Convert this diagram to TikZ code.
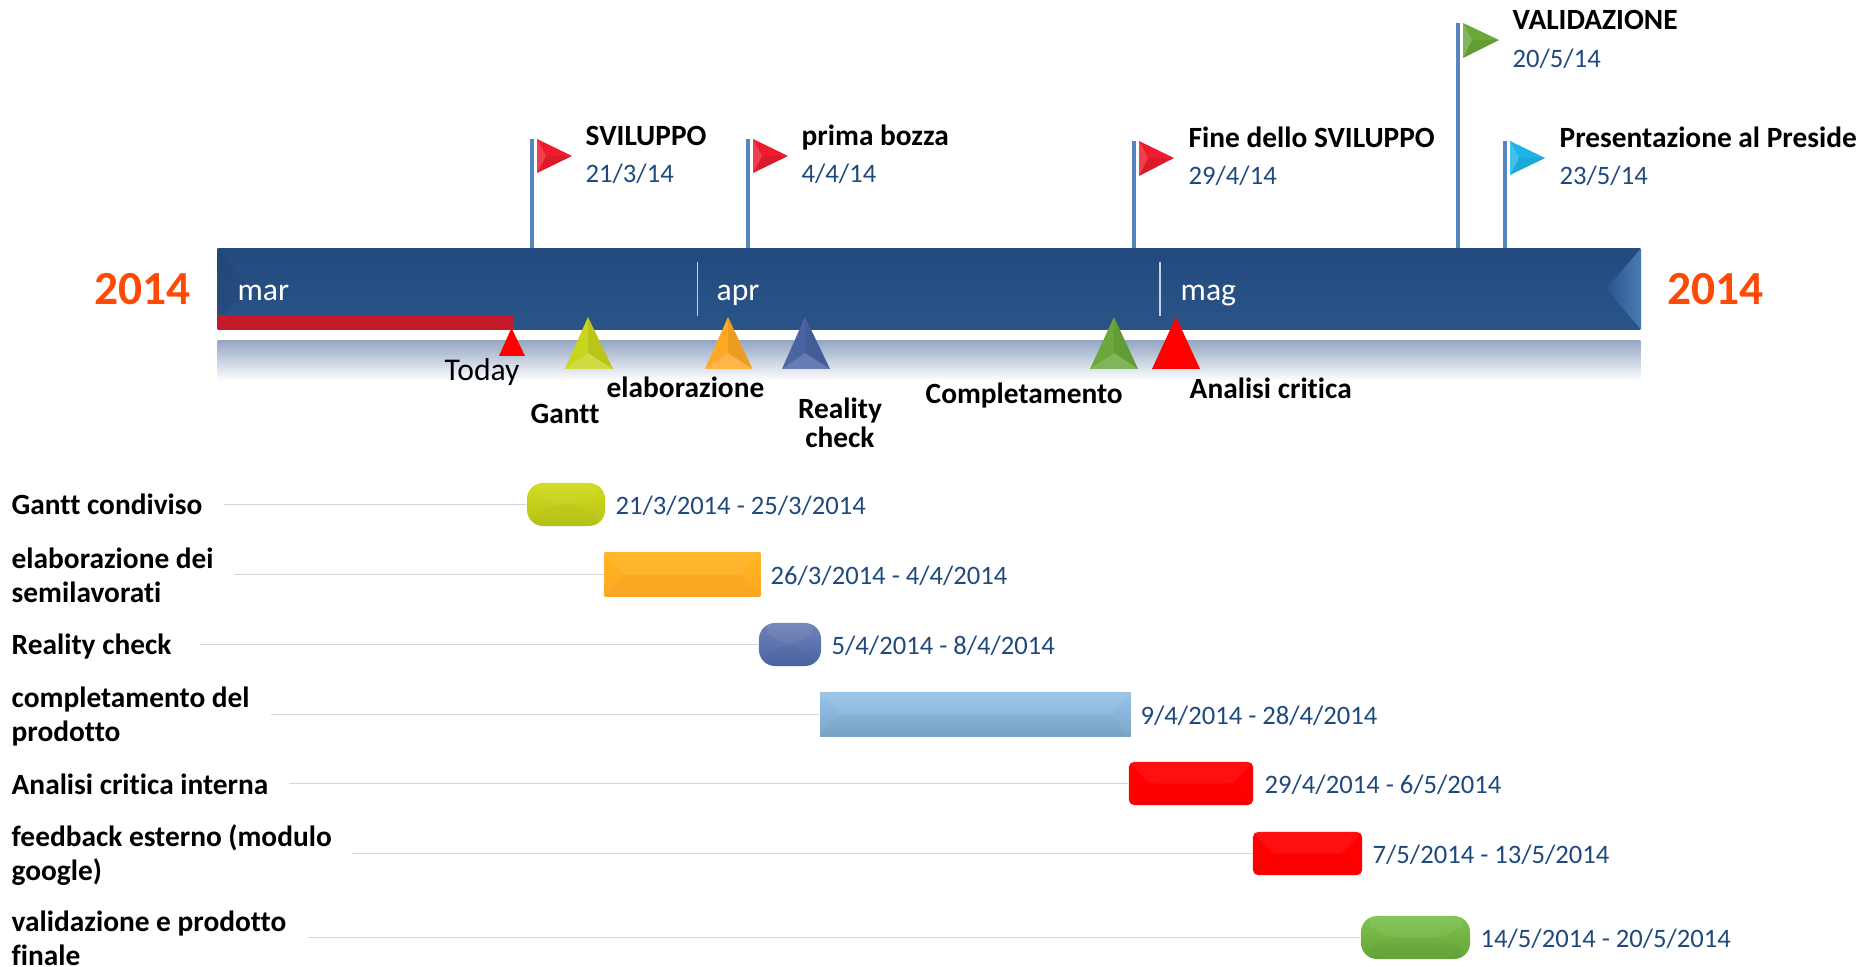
\documentclass[tikz,border=0pt]{standalone}
\usepackage{fontspec}
\setmainfont[Ligatures=NoCommon]{Carlito}
\definecolor{bandtop}{HTML}{234A7E}
\definecolor{bandbot}{HTML}{2A5488}
\definecolor{bandend}{HTML}{4A7AB5}
\definecolor{stripcol}{HTML}{95A8C4}
\definecolor{datecol}{HTML}{1F497D}
\definecolor{polecol}{HTML}{5585BE}
\definecolor{yearcol}{HTML}{FF4A06}
\definecolor{rowcol}{HTML}{D6D6D6}
\definecolor{todaycol}{HTML}{C41A2C}
\definecolor{flagred}{HTML}{EE1C2E}
\definecolor{flaggreen}{HTML}{6BA83A}
\definecolor{flagcyan}{HTML}{1EB4E8}
\definecolor{trigantt}{HTML}{C8D41E}
\definecolor{triorange}{HTML}{FFA825}
\definecolor{triblue}{HTML}{4A64A4}
\definecolor{trigreen}{HTML}{6AA83C}
\tikzset{
	bold/.style={inner sep=0, anchor=base west, font=\fontsize{8.35}{9.7}\selectfont\bfseries},
	date/.style={inner sep=0, anchor=base west, text=datecol, font=\fontsize{7.57}{9.7}\selectfont},
	year/.style={inner sep=0, anchor=base west, text=yearcol, font=\fontsize{13.5}{14}\selectfont\bfseries},
	month/.style={inner sep=0, anchor=base west, text=white, font=\fontsize{9}{10}\selectfont},
	tick/.style={white!75!bandtop, line width=0.5pt},
	pole/.style={polecol, line width=1pt},
	rowlab/.style={inner sep=0, anchor=west, align=left, font=\fontsize{8.35}{9.7}\selectfont\bfseries},
	rowline/.style={rowcol, line width=0.4pt},
	facetl/.style={white, opacity=0.16},
	facetr/.style={black, opacity=0.07},
	bar/.style={inner sep=0, minimum height=0.43cm, path picture={
		\fill[white, opacity=0.06] (path picture bounding box.north west) -- (path picture bounding box.north east) -- ([xshift=-0.2cm]path picture bounding box.east) -- ([xshift=0.2cm]path picture bounding box.west) -- cycle;
		\fill[black, opacity=0.02] (path picture bounding box.south west) -- (path picture bounding box.south east) -- ([xshift=-0.2cm]path picture bounding box.east) -- ([xshift=0.2cm]path picture bounding box.west) -- cycle;}},
	pill/.style={bar, rounded corners=0.16cm},
	soft/.style={bar, rounded corners=0.05cm},
}
\begin{document}
\begin{tikzpicture}[x=0.01cm, y=-0.01cm]
	\useasboundingbox (0, 0) rectangle (1864, 967);
	%% band and strip
	\node[inner sep=0, minimum width=14.22cm, minimum height=0.80cm, top color=bandtop, bottom color=bandbot] (band) at (929, 289) {};
	\node[inner sep=0, minimum width=14.22cm, minimum height=0.40cm, top color=stripcol, bottom color=white] (strip) at (929, 361) {};
	\shade[left color=bandbot, right color=bandend] (band.north east) -- (band.south east) -- (1606, 289) -- cycle;
	\fill[black, opacity=0.05] (band.north west) -- (218, 322) -- (250, 289) -- cycle;
	\fill[todaycol] (218, 315) rectangle (514, 330);
	%%
	\node[year] (yearl) at (94, 305) {2014};
	\node[year] (yearr) at (1667, 305) {2014};
	%%
	\node[month] (mar) at (237, 301) {mar};
	\node[month] (apr) at (716, 301) {apr};
	\node[month] (mag) at (1180, 301) {mag};
	\coordinate (aprt) at (697.5, 262);
	\coordinate (aprb) at (697.5, 316);
	\coordinate (magt) at (1160, 262);
	\coordinate (magb) at (1160, 316);
	\draw[tick] (aprt) -- (aprb);
	\draw[tick] (magt) -- (magb);
	%% flags
	\coordinate (svil) at (532, 139);
	\coordinate (prima) at (748, 139);
	\coordinate (fine) at (1134, 141);
	\coordinate (valid) at (1458, 23);
	\coordinate (pres) at (1505, 141);
	\draw[pole] (svil) -- (svil |- band.north);
	\draw[pole] (prima) -- (prima |- band.north);
	\draw[pole] (fine) -- (fine |- band.north);
	\draw[pole] (valid) -- (valid |- band.north);
	\draw[pole] (pres) -- (pres |- band.north);
	%%
	\fill[flagred] (537, 139) -- (572, 156) -- (537, 173) -- cycle;
	\fill[facetl] (537, 139) -- (546, 156) -- (537, 173) -- cycle;
	\fill[facetr] (537, 173) -- (546, 156) -- (572, 156) -- cycle;
	\fill[flagred] (753, 139) -- (788, 156) -- (753, 173) -- cycle;
	\fill[facetl] (753, 139) -- (762, 156) -- (753, 173) -- cycle;
	\fill[facetr] (753, 173) -- (762, 156) -- (788, 156) -- cycle;
	\fill[flagred] (1139, 141) -- (1174, 158) -- (1139, 176) -- cycle;
	\fill[facetl] (1139, 141) -- (1148, 158) -- (1139, 176) -- cycle;
	\fill[facetr] (1139, 176) -- (1148, 158) -- (1174, 158) -- cycle;
	\fill[flaggreen] (1463, 23) -- (1499, 40) -- (1463, 58) -- cycle;
	\fill[facetl] (1463, 23) -- (1472, 40) -- (1463, 58) -- cycle;
	\fill[facetr] (1463, 58) -- (1472, 40) -- (1499, 40) -- cycle;
	\fill[flagcyan] (1510, 141) -- (1545, 158) -- (1510, 175) -- cycle;
	\fill[facetl] (1510, 141) -- (1519, 158) -- (1510, 175) -- cycle;
	\fill[facetr] (1510, 175) -- (1519, 158) -- (1545, 158) -- cycle;
	%%
	\node[bold] (sviltxt) at (585, 146) {SVILUPPO};
	\node[date] (svild) at (585, 183) {21/3/14};
	\node[bold] (primatxt) at (801, 146) {prima bozza};
	\node[date] (primad) at (801, 183) {4/4/14};
	\node[bold] (finetxt) at (1188, 148) {Fine dello SVILUPPO};
	\node[date] (fined) at (1188, 185) {29/4/14};
	\node[bold] (validtxt) at (1512, 30) {VALIDAZIONE};
	\node[date] (validd) at (1512, 68) {20/5/14};
	\node[bold] (prestxt) at (1559, 148) {Presentazione al Preside};
	\node[date] (presd) at (1559, 185) {23/5/14};
	%% triangles
	\fill[red] (511.5, 328) -- (525, 356) -- (499, 356) -- cycle;
	\node[inner sep=0, anchor=base west, font=\fontsize{9}{10}\selectfont] (today) at (444, 381) {Today};
	%%
	\fill[trigantt] (588, 317) -- (613, 369) -- (565, 369) -- cycle;
	\fill[facetr] (588, 317) -- (613, 369) -- (588, 353) -- cycle;
	\fill[facetl] (565, 369) -- (613, 369) -- (588, 353) -- cycle;
	\fill[triorange] (728, 317) -- (752.5, 369) -- (705, 369) -- cycle;
	\fill[facetr] (728, 317) -- (752.5, 369) -- (728, 353) -- cycle;
	\fill[facetl] (705, 369) -- (752.5, 369) -- (728, 353) -- cycle;
	\fill[triblue] (805, 317) -- (830, 369) -- (782, 369) -- cycle;
	\fill[facetr] (805, 317) -- (830, 369) -- (805, 353) -- cycle;
	\fill[facetl] (782, 369) -- (830, 369) -- (805, 353) -- cycle;
	\fill[trigreen] (1114, 317) -- (1138, 369) -- (1090, 369) -- cycle;
	\fill[facetr] (1114, 317) -- (1138, 369) -- (1114, 353) -- cycle;
	\fill[facetl] (1090, 369) -- (1138, 369) -- (1114, 353) -- cycle;
	\fill[red] (1176, 317) -- (1200, 369) -- (1152, 369) -- cycle;
	%%
	\node[bold] (ganttxt) at (530, 423) {Gantt};
	\node[bold] (elabtxt) at (606, 397) {elaborazione};
	\node[bold, anchor=base, align=center] (realtxt) at (840, 447) {Reality\\[-1.6pt]check};
	\node[bold] (compltxt) at (925, 403) {Completamento};
	\node[bold] (analtxt) at (1189, 399) {Analisi critica};
	%% rows
	\node[rowlab] (r1) at (11, 504) {Gantt condiviso};
	\node[rowlab] (r2) at (11, 575) {elaborazione dei\\semilavorati};
	\node[rowlab] (r3) at (11, 647) {Reality check};
	\node[rowlab] (r4) at (11, 716.5) {completamento del\\prodotto};
	\node[rowlab] (r5) at (11, 784) {Analisi critica interna};
	\node[rowlab] (r6) at (11, 855) {feedback esterno (modulo\\google)};
	\node[rowlab] (r7) at (11, 938) {validazione e prodotto\\finale};
	%%
	\node[pill, minimum width=0.78cm, top color=trigantt!85!yellow, bottom color=trigantt!92!black] (b1) at (566, 504.5) {};
	\node[bar, minimum width=1.555cm, top color=triorange!85!yellow, bottom color=triorange] (b2) at (682.5, 574.5) {};
	\node[pill, minimum width=0.62cm, top color=triblue!80!white, bottom color=triblue] (b3) at (790, 644.5) {};
	\node[bar, minimum width=3.105cm, top color={rgb,255:red,150;green,196;blue,232}, bottom color={rgb,255:red,122;green,166;blue,202}] (b4) at (975.5, 714.5) {};
	\node[soft, minimum width=1.24cm, fill=red] (b5) at (1191, 783.5) {};
	\node[soft, minimum width=1.09cm, fill=red] (b6) at (1307.5, 853.5) {};
	\node[pill, minimum width=1.09cm, top color={rgb,255:red,126;green,194;blue,80}, bottom color={rgb,255:red,102;green,166;blue,56}] (b7) at (1415.5, 937.5) {};
	%%
	\coordinate (l1) at (224, 504.5);
	\coordinate (l2) at (234, 574.5);
	\coordinate (l3) at (200, 644.5);
	\coordinate (l4) at (271, 714.5);
	\coordinate (l5) at (289, 783.5);
	\coordinate (l6) at (352, 853.5);
	\coordinate (l7) at (308, 937.5);
	\draw[rowline] (l1) -- (b1.west);
	\draw[rowline] (l2) -- (b2.west);
	\draw[rowline] (l3) -- (b3.west);
	\draw[rowline] (l4) -- (b4.west);
	\draw[rowline] (l5) -- (b5.west);
	\draw[rowline] (l6) -- (b6.west);
	\draw[rowline] (l7) -- (b7.west);
	%%
	\node[date] (d1) at (615, 514) {21/3/2014 - 25/3/2014};
	\node[date] (d2) at (770, 584) {26/3/2014 - 4/4/2014};
	\node[date] (d3) at (831, 654) {5/4/2014 - 8/4/2014};
	\node[date] (d4) at (1140, 724) {9/4/2014 - 28/4/2014};
	\node[date] (d5) at (1264, 793) {29/4/2014 - 6/5/2014};
	\node[date] (d6) at (1372, 863) {7/5/2014 - 13/5/2014};
	\node[date] (d7) at (1480, 947) {14/5/2014 - 20/5/2014};
\end{tikzpicture}
\end{document}
